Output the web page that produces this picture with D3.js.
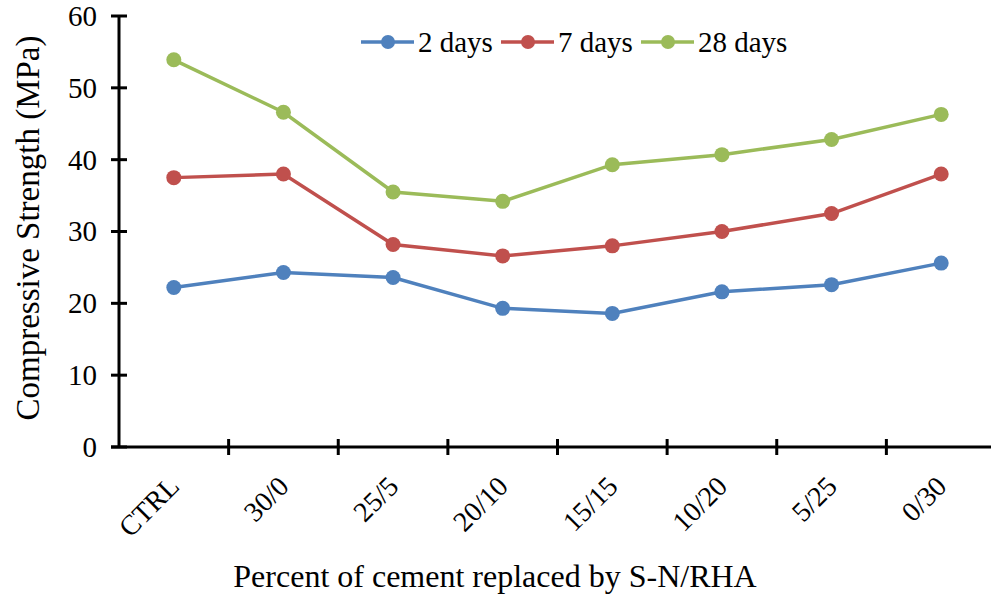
<!DOCTYPE html>
<html>
<head>
<meta charset="utf-8">
<script src="https://cdn.jsdelivr.net/npm/d3@7"></script>
<style>
  body { margin: 0; background: #fff; }
  svg text { font-family: "Liberation Serif", "Times New Roman", serif; fill: #000; }
</style>
</head>
<body>
<div class="chart"></div>
<script>
const categories = ["CTRL", "30/0", "25/5", "20/10", "15/15", "10/20", "5/25", "0/30"];
const days2  = [22.2, 24.3, 23.6, 19.3, 18.6, 21.6, 22.6, 25.6];
const days7  = [37.5, 38.0, 28.2, 26.6, 28.0, 30.0, 32.5, 38.0];
const days28 = [53.9, 46.6, 35.5, 34.2, 39.3, 40.7, 42.8, 46.3];
const yTicks = [0, 10, 20, 30, 40, 50, 60];

const series = [
  { name: "2 days", values: days2, color: "#4F81BD" },
  { name: "7 days", values: days7, color: "#C0504D" },
  { name: "28 days", values: days28, color: "#9BBB59" }
];

const width = 991, height = 596;
const plotLeft = 119, plotRight = 996, plotTop = 16, plotBottom = 447;

const svg = d3.select(".chart").append("svg")
  .attr("width", width).attr("height", height);

const x = d3.scaleBand().domain(categories).range([plotLeft, plotRight]);
const y = d3.scaleLinear().domain([0, 60]).range([plotBottom, plotTop]);

// y axis
const yAxis = svg.append("g").attr("transform", `translate(${plotLeft},0)`);
yAxis.append("line")
  .attr("x1", 0).attr("x2", 0).attr("y1", y(60)).attr("y2", y(0))
  .attr("stroke", "#000").attr("stroke-width", 3);
yTicks.forEach(t => {
  yAxis.append("line")
    .attr("x1", -8).attr("x2", 8).attr("y1", y(t)).attr("y2", y(t))
    .attr("stroke", "#000").attr("stroke-width", 3);
  yAxis.append("text")
    .attr("x", -22).attr("y", y(t)).attr("dy", "0.34em")
    .attr("text-anchor", "end").style("font-size", "29px")
    .text(t);
});

// x axis
const xAxis = svg.append("g").attr("transform", `translate(0,${plotBottom})`);
xAxis.append("line")
  .attr("x1", plotLeft - 8).attr("x2", plotRight).attr("y1", 0).attr("y2", 0)
  .attr("stroke", "#000").attr("stroke-width", 3);
categories.forEach((c, i) => {
  if (i > 0) {
    xAxis.append("line")
      .attr("x1", x(c)).attr("x2", x(c)).attr("y1", -8).attr("y2", 8)
      .attr("stroke", "#000").attr("stroke-width", 3);
  }
  const cx = x(c) + x.bandwidth() / 2;
  xAxis.append("text")
    .attr("transform", `translate(${cx + 7},41) rotate(-45)`)
    .attr("text-anchor", "end")
    .style("font-size", "28px")
    .text(c);
});

// lines
const line = d3.line()
  .x((d, i) => x(categories[i]) + x.bandwidth() / 2)
  .y(d => y(d));

series.forEach(s => {
  svg.append("path")
    .datum(s.values)
    .attr("d", line)
    .attr("fill", "none")
    .attr("stroke", s.color)
    .attr("stroke-width", 3.5);
  svg.selectAll(null)
    .data(s.values)
    .enter().append("circle")
    .attr("cx", (d, i) => x(categories[i]) + x.bandwidth() / 2)
    .attr("cy", d => y(d))
    .attr("r", 7.5)
    .attr("fill", s.color);
});

// legend
const legendX = [361, 501, 641];
series.forEach((s, i) => {
  const g = svg.append("g").attr("transform", `translate(${legendX[i]},42)`);
  g.append("line").attr("x1", 0).attr("x2", 53).attr("y1", 0).attr("y2", 0)
    .attr("stroke", s.color).attr("stroke-width", 3.5);
  g.append("circle").attr("cx", 27).attr("cy", 0).attr("r", 7).attr("fill", s.color);
  g.append("text").attr("x", 57).attr("y", 0).attr("dy", "0.34em")
    .style("font-size", "29px").text(s.name);
});

// axis titles
svg.append("text")
  .attr("transform", `translate(39,228) rotate(-90)`)
  .attr("text-anchor", "middle")
  .style("font-size", "33px")
  .text("Compressive Strength (MPa)");

svg.append("text")
  .attr("x", 495).attr("y", 587)
  .attr("text-anchor", "middle")
  .style("font-size", "32px")
  .text("Percent of cement replaced by S-N/RHA");
</script>
</body>
</html>
